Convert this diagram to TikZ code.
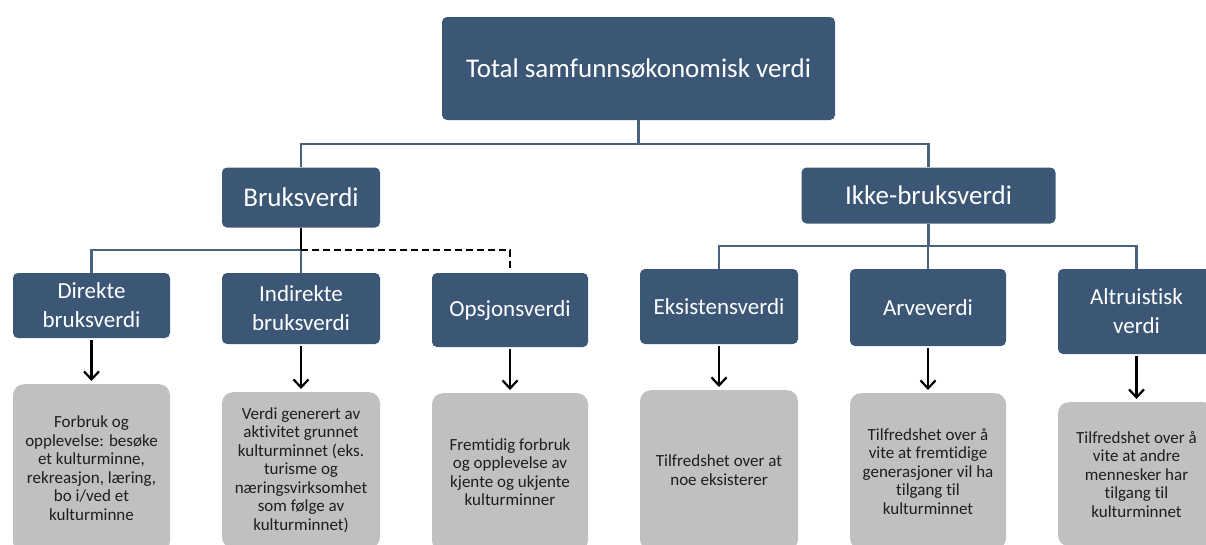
\documentclass[tikz,border=0pt]{standalone}
\usepackage{fontspec}
\setmainfont{Carlito}[Ligatures=NoCommon]
\usetikzlibrary{arrows.meta}
\definecolor{boxblue}{RGB}{59,87,117}
\definecolor{boxgray}{RGB}{192,192,192}
\definecolor{connblue}{RGB}{72,98,128}
\definecolor{graytext}{RGB}{30,30,30}
\tikzset{
  bluebox/.style={fill=boxblue, rounded corners=5pt, text=white, align=center,
    inner sep=0pt, font=\fontsize{23}{29}\selectfont},
  bigfont/.style={font=\fontsize{27}{30}\selectfont},
  graybox/.style={fill=boxgray, rounded corners=11pt, text=graytext, align=center,
    inner sep=0pt, anchor=north, font=\fontsize{17}{18.5}\selectfont},
  conn/.style={draw=connblue, line width=2.5pt},
  blackconn/.style={draw=black, line width=2.5pt},
  dashconn/.style={draw=black, line width=2.5pt, dash pattern=on 7pt off 4pt, shorten >=3pt},
  arr/.style={draw=black, line width=2.2pt, -{Straight Barb[length=8pt,width=15pt]},
    shorten >=3pt, shorten <=2pt},
}
\begin{document}
\begin{tikzpicture}[x=1pt,y=-1pt]
\useasboundingbox (0,0) rectangle (1206,544);
\clip (0,0) rectangle (1206,544);

% top level
\node[bluebox, bigfont, minimum width=393pt, minimum height=103pt] (total) at (638.5,68.5)
  {Total samfunnsøkonomisk verdi};

% second level
\node[bluebox, bigfont, minimum width=158pt, minimum height=60pt] (bruk) at (301,197.5) {Bruksverdi};
\node[bluebox, bigfont, minimum width=254pt, minimum height=56pt] (ikke) at (928.5,195.5) {Ikke-bruksverdi};

% third level
\node[bluebox, minimum width=157pt, minimum height=65pt] (direkte) at (91.5,305.5) {Direkte\\bruksverdi};
\node[bluebox, minimum width=158pt, minimum height=71pt] (indirekte) at (301,308.5) {Indirekte\\bruksverdi};
\node[bluebox, minimum width=156pt, minimum height=74pt] (opsjon) at (510,310) {Opsjonsverdi};
\node[bluebox, minimum width=158pt, minimum height=75pt] (eks) at (719,306.5) {Eksistensverdi};
\node[bluebox, minimum width=156pt, minimum height=77pt] (arve) at (928,307.5) {Arveverdi};
\node[bluebox, minimum width=157pt, minimum height=85pt] (alt) at (1136.5,311.5) {Altruistisk\\verdi};

% grey description boxes
\node[graybox, minimum width=157pt, minimum height=168pt] (dg) at (91.5,384)
  {Forbruk og\\opplevelse: besøke\\et kulturminne,\\rekreasjon, læring,\\bo i/ved et\\kulturminne};
\node[graybox, minimum width=158pt, minimum height=156pt] (ig) at (301,392)
  {Verdi generert av\\aktivitet grunnet\\kulturminnet (eks.\\turisme og\\næringsvirksomhet\\som følge av\\kulturminnet)};
\node[graybox, minimum width=156pt, minimum height=158pt] (og) at (510,393)
  {Fremtidig forbruk\\og opplevelse av\\kjente og ukjente\\kulturminner};
\node[graybox, minimum width=158pt, minimum height=160pt] (eg) at (719,390)
  {Tilfredshet over at\\noe eksisterer};
\node[graybox, minimum width=156pt, minimum height=156pt] (ag) at (928,393)
  {Tilfredshet over å\\vite at fremtidige\\generasjoner vil ha\\tilgang til\\kulturminnet};
\node[graybox, minimum width=157pt, minimum height=144pt] (altg) at (1136.5,402)
  {Tilfredshet over å\\vite at andre\\mennesker har\\tilgang til\\kulturminnet};

% junctions
\coordinate (jt) at (638.5,144);
\coordinate (jb) at (301,250);
\coordinate (ji) at (928.5,246);

% connectors
\draw[conn] (total.south) -- (jt);
\draw[conn] (jt) -| (bruk.north);
\draw[conn] (jt) -| (ikke.north);
\draw[conn] (jb) -| (direkte.north);
\draw[conn] (jb) -- (indirekte.north);
\draw[dashconn] (jb) -| (opsjon.north);
\draw[blackconn] (bruk.south) -- (jb);
\draw[conn] (ikke.south) -- (ji);
\draw[conn] (ji) -| (eks.north);
\draw[conn] (ji) -| (arve.north);
\draw[conn] (ji) -| (alt.north);

% arrows
\draw[arr] (direkte.south) -- (dg.north);
\draw[arr] (indirekte.south) -- (ig.north);
\draw[arr] (opsjon.south) -- (og.north);
\draw[arr] (eks.south) -- (eg.north);
\draw[arr] (arve.south) -- (ag.north);
\draw[arr] (alt.south) -- (altg.north);
\end{tikzpicture}
\end{document}
